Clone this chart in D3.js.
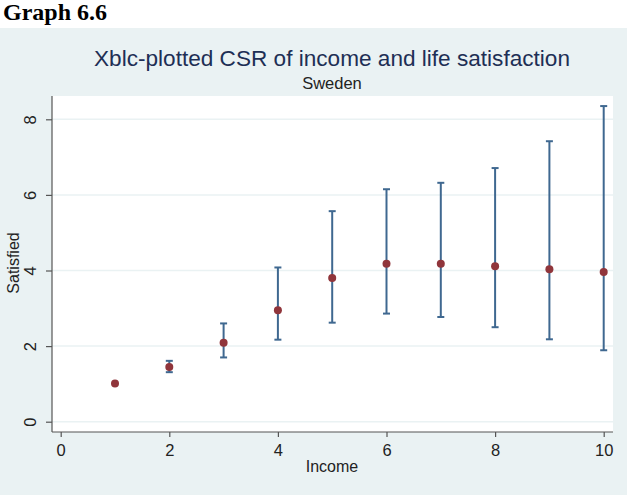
<!DOCTYPE html>
<html>
<head>
<meta charset="utf-8">
<script src="https://cdn.jsdelivr.net/npm/d3@7"></script>
<style>
  body { margin: 0; background: #fff; }
  svg { display: block; }
</style>
</head>
<body>
<script>
// income groups and the CSR estimates with their upper / lower bounds
var income = [1, 2, 3, 4, 5, 6, 7, 8, 9, 10]
var csr    = [1.01, 1.45, 2.09, 2.95, 3.80, 4.18, 4.18, 4.11, 4.03, 3.96]
var upper  = [1.01, 1.61, 2.60, 4.08, 5.57, 6.15, 6.32, 6.71, 7.42, 8.35]
var lower  = [1.01, 1.31, 1.70, 2.17, 2.62, 2.86, 2.77, 2.50, 2.18, 1.89]
var xTicks = [0, 2, 4, 6, 8, 10]
var yTicks = [0, 2, 4, 6, 8]

var W = 627, H = 495
var svg = d3.select("body")
      .append("svg")
      .attr("width", W)
      .attr("height", H)

// page heading above the graph
svg.append("text")
  .attr("x", 3).attr("y", 20)
  .attr("font-family", "Liberation Serif, Times New Roman, serif")
  .attr("font-weight", "bold")
  .attr("font-size", 24)
  .attr("fill", "#000")
  .text("Graph 6.6")

// stata style background panel
svg.append("rect")
  .attr("x", 0).attr("y", 28)
  .attr("width", W).attr("height", H - 28)
  .attr("fill", "#eaf2f3")

var plot = {left: 52, right: 613, top: 96, bottom: 432}

svg.append("rect")
  .attr("x", plot.left).attr("y", plot.top)
  .attr("width", plot.right - plot.left)
  .attr("height", plot.bottom - plot.top)
  .attr("fill", "#fff")

var x = d3.scaleLinear().domain([0, 10]).range([60.7, 603.7])
var y = d3.scaleLinear().domain([0, 8]).range([421.7, 119.3])

// gridlines
svg.append("g")
  .selectAll("line")
  .data(yTicks)
  .enter().append("line")
  .attr("x1", plot.left).attr("x2", plot.right)
  .attr("y1", function(d){ return y(d) })
  .attr("y2", function(d){ return y(d) })
  .attr("stroke", "#eaf2f3")
  .attr("stroke-width", 1.5)

// axes
var xAxis = svg.append("g")
  .attr("transform", "translate(0," + plot.bottom + ")")
  .call(d3.axisBottom(x).tickValues(xTicks).tickSize(5).tickPadding(7))
xAxis.select(".domain").attr("d", "M" + plot.left + ",0H" + plot.right)

var yAxis = svg.append("g")
  .attr("transform", "translate(" + plot.left + ",0)")
  .call(d3.axisLeft(y).tickValues(yTicks).tickSize(6).tickPadding(8))
yAxis.select(".domain").attr("d", "M0," + plot.top + "V" + plot.bottom)

svg.selectAll(".domain, .tick line").attr("stroke", "#555").attr("stroke-width", 1.2)
svg.selectAll(".tick text")
  .attr("font-family", "Liberation Sans, Arial, sans-serif")
  .attr("font-size", 16.5)
  .attr("fill", "#222")

yAxis.selectAll(".tick text")
  .attr("text-anchor", "middle")
  .attr("dy", 0)
  .attr("transform", function(){
    return "translate(-22,0) rotate(-90)"
  })
  .attr("x", 0).attr("y", 0)
  .attr("dominant-baseline", "central")

// error bars
var data = income.map(function(d, i){
  return {x: d, v: csr[i], hi: upper[i], lo: lower[i]}
}).filter(function(d){ return d.hi > d.lo })

var bars = svg.append("g").attr("stroke", "#3f6890").attr("stroke-width", 2)
bars.selectAll("line.stem")
  .data(data)
  .enter().append("line")
  .attr("class", "stem")
  .attr("x1", function(d){ return x(d.x) }).attr("x2", function(d){ return x(d.x) })
  .attr("y1", function(d){ return y(d.hi) }).attr("y2", function(d){ return y(d.lo) })
;["hi", "lo"].forEach(function(k){
  bars.selectAll("line.cap-" + k)
    .data(data)
    .enter().append("line")
    .attr("class", "cap-" + k)
    .attr("x1", function(d){ return x(d.x) - 3.5 }).attr("x2", function(d){ return x(d.x) + 3.5 })
    .attr("y1", function(d){ return y(d[k]) }).attr("y2", function(d){ return y(d[k]) })
})

// point estimates
svg.append("g")
  .selectAll("circle")
  .data(income)
  .enter().append("circle")
  .attr("cx", function(d){ return x(d) })
  .attr("cy", function(d, i){ return y(csr[i]) })
  .attr("r", 4)
  .attr("fill", "#90353b")

// titles
svg.append("text")
  .attr("x", 332).attr("y", 66)
  .attr("text-anchor", "middle")
  .attr("font-family", "Liberation Sans, Arial, sans-serif")
  .attr("font-size", 22.6)
  .attr("fill", "#1e2f55")
  .text("Xblc-plotted CSR of income and life satisfaction")

svg.append("text")
  .attr("x", 332).attr("y", 88.5)
  .attr("text-anchor", "middle")
  .attr("font-family", "Liberation Sans, Arial, sans-serif")
  .attr("font-size", 16.5)
  .attr("fill", "#222")
  .text("Sweden")

svg.append("text")
  .attr("x", 332).attr("y", 472)
  .attr("text-anchor", "middle")
  .attr("font-family", "Liberation Sans, Arial, sans-serif")
  .attr("font-size", 16)
  .attr("fill", "#222")
  .text("Income")

svg.append("text")
  .attr("transform", "translate(19,263) rotate(-90)")
  .attr("text-anchor", "middle")
  .attr("font-family", "Liberation Sans, Arial, sans-serif")
  .attr("font-size", 16)
  .attr("fill", "#222")
  .text("Satisfied")
</script>
</body>
</html>
